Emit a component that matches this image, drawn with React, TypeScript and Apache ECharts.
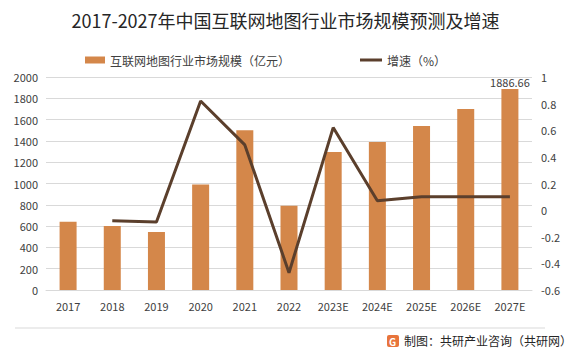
import React, { useEffect, useRef } from "react";
import * as echarts from "echarts";

const categories = ["2017", "2018", "2019", "2020", "2021", "2022", "2023E", "2024E", "2025E", "2026E", "2027E"];
const marketSize = [640, 600, 545, 990, 1500, 790, 1295, 1390, 1540, 1700, 1886.66];
const growthRate = [null, -0.08, -0.09, 0.82, 0.49, -0.47, 0.62, 0.07, 0.1, 0.1, 0.1];
const leftTicks = { min: 0, max: 2000, interval: 200 };
const rightTicks = { min: -0.6, max: 1, interval: 0.2 };

const BAR_NAME = "互联网地图行业市场规模（亿元）";
const LINE_NAME = "增速（%）";
const FONT = "'Noto Sans CJK SC', 'Noto Sans', sans-serif";

export default function App() {
  const ref = useRef<HTMLDivElement>(null);
  useEffect(() => {
    if (!ref.current) return;
    const chart = echarts.init(ref.current, undefined, { renderer: "svg" });
    chart.setOption({
      animation: false,
      backgroundColor: "#ffffff",
      textStyle: { fontFamily: FONT },
      title: {
        text: "2017-2027年中国互联网地图行业市场规模预测及增速",
        left: "center",
        top: 6,
        textStyle: { fontSize: 18, fontWeight: "normal", color: "#262626", fontFamily: FONT },
      },
      legend: [
        {
          data: [BAR_NAME],
          left: 80,
          top: 49,
          icon: "rect",
          itemWidth: 20,
          itemHeight: 7,
          itemGap: 4,
          textStyle: { fontSize: 12, color: "#404040", fontFamily: FONT },
        },
        {
          data: [LINE_NAME],
          left: 355,
          top: 49,
          icon: "rect",
          itemWidth: 22,
          itemHeight: 3,
          itemGap: 4,
          textStyle: { fontSize: 12, color: "#404040", fontFamily: FONT },
        },
      ],
      grid: { left: 46, right: 39, top: 77, bottom: 66, containLabel: false },
      xAxis: {
        type: "category",
        data: categories,
        axisTick: { show: false },
        axisLine: { lineStyle: { color: "#d9d9d9" } },
        axisLabel: { color: "#404040", fontSize: 11, margin: 10, fontFamily: FONT },
      },
      yAxis: [
        {
          type: "value",
          ...leftTicks,
          axisLine: { show: false },
          axisTick: { show: false },
          axisLabel: { color: "#404040", fontSize: 11, margin: 8, fontFamily: FONT, formatter: (v: number) => String(v) },
          splitLine: { lineStyle: { color: "#d9d9d9" } },
        },
        {
          type: "value",
          ...rightTicks,
          axisLine: { show: false },
          axisTick: { show: false },
          axisLabel: { color: "#404040", fontSize: 11, margin: 9, fontFamily: FONT, formatter: (v: number) => String(Math.round(v * 10) / 10) },
          splitLine: { show: false },
        },
      ],
      series: [
        {
          name: BAR_NAME,
          type: "bar",
          data: marketSize.map((v, i) => ({
            value: v,
            label: i === marketSize.length - 1 ? { show: true, position: "top", distance: 2, formatter: "{c}", color: "#404040", fontSize: 11 } : { show: false },
          })),
          barWidth: 17,
          itemStyle: { color: "#D4874A" },
          yAxisIndex: 0,
        },
        {
          name: LINE_NAME,
          type: "line",
          data: growthRate,
          yAxisIndex: 1,
          symbol: "none",
          connectNulls: false,
          lineStyle: { color: "#5B3F2C", width: 3 },
          itemStyle: { color: "#5B3F2C" },
        },
      ],
      graphic: [
        { type: "line", shape: { x1: 15, y1: 328, x2: 545, y2: 328 }, style: { stroke: "#d9d9d9", lineWidth: 1 } },
        { type: "rect", shape: { x: 387, y: 335, width: 12, height: 12, r: 2 }, style: { fill: "#E8743B" } },
        { type: "text", style: { x: 389, y: 336, text: "G", fill: "#ffffff", fontSize: 10, fontWeight: "bold", fontFamily: FONT } },
        { type: "text", style: { x: 404, y: 334, text: "制图：共研产业咨询（共研网）", fill: "#262626", fontSize: 12, fontFamily: FONT } },
      ],
    });
    return () => chart.dispose();
  }, []);
  return <div ref={ref} style={{ width: 571, height: 356, position: "absolute", left: 0, top: 0 }} />;
}
